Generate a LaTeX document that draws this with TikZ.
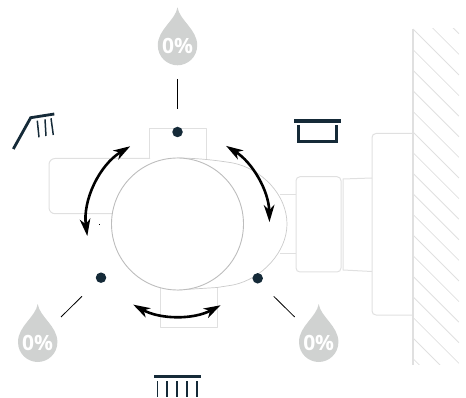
\documentclass[tikz,border=0pt]{standalone}
\usepackage{fontspec}
\setsansfont{Open Sans}
\usetikzlibrary{arrows.meta}
\definecolor{icondark}{HTML}{152A38}
\definecolor{dropgrey}{HTML}{D0D2D1}
\definecolor{bodygrey}{HTML}{E0E0E0}
\definecolor{ringgrey}{HTML}{BDBDBD}
\tikzset{
  bodyline/.style={draw=bodygrey,line width=1pt,line join=round},
  thinbody/.style={draw=bodygrey!90!black,line width=0.7pt},
  hatchline/.style={draw=bodygrey,line width=0.8pt},
  turn/.style={line width=2.6pt,{Stealth[length=17pt,width=10.5pt,inset=5pt]}-{Stealth[length=17pt,width=10.5pt,inset=5pt]}},
  dotnode/.style={circle,fill=icondark,inner sep=0pt,minimum size=10.5pt},
  droptext/.style={text=white,font=\sffamily\bfseries\fontsize{21}{21}\selectfont,inner sep=0pt},
  leader/.style={draw=black,line width=0.8pt},
  icon/.style={draw=icondark,line width=2.8pt,line join=miter},
  iconthin/.style={draw=icondark,line width=1.5pt}
}
\begin{document}
\begin{tikzpicture}[x=1pt,y=-1pt]
  \useasboundingbox (0,0) rectangle (466,398);
  % Wall
  \begin{scope}
  \clip (413,29) rectangle (459,364.5);
  \foreach \k in {-2,...,16}
    \draw[hatchline] (413,29+20.6*\k) -- ++(46,46);
  \end{scope}
  \draw[bodyline,line width=1.6pt] (413,29) -- (413,364.5);
  % Fittings towards the wall
  \draw[bodyline] (413,133.5) -- (376,133.5) arc[start angle=270,end angle=180,radius=4]
    -- (372,311) arc[start angle=180,end angle=90,radius=4] -- (413,315);
  \draw[bodyline] (372,178) -- (343,179) -- (343,270) -- (372,271.5);
  \draw[bodyline,rounded corners=4pt] (296,176.7) rectangle (341,272);
  \draw[bodyline] (280,195) -- (296,195);
  \draw[bodyline] (280,254) -- (296,254);
  % Valve body
  \draw[bodyline,rounded corners=6pt] (150,158.5) -- (49,158.5) -- (49,213.7) -- (150,213.7);
  \draw[bodyline] (149,158.5) -- (149,129) -- (206,129) -- (206,159);
  \draw[bodyline] (160,285) -- (160,327) -- (217,327) -- (217,287);
  \draw[thinbody] (177,158) .. controls (195,158) and (215,160) .. (233,163)
    .. controls (262,169) and (287,195) .. (287,224)
    .. controls (287,252) and (262,279) .. (233,285) -- (217,287.5) -- (177,290);
  \draw[draw=ringgrey,fill=white,line width=0.9pt] (177.5,224) circle (66);
  % Ports
  \node[dotnode] (dotTop) at (177.5,132) {};
  \node[dotnode] (dotLeft) at (101,277.7) {};
  \node[dotnode] (dotRight) at (257.7,278.3) {};
  \fill[black] (98.8,224.2) rectangle (100.2,225);
  % Turning arrows
  \draw[turn] (177.5,224) ++(238.7:91) arc[start angle=238.7,end angle=172.4,radius=91];
  \draw[turn] (177.5,224) ++(-58.1:92) arc[start angle=-58.1,end angle=-1.2,radius=92];
  \draw[turn] (177.5,224) ++(118.8:92) arc[start angle=118.8,end angle=62,radius=92];
  % Drops
  \foreach \nm/\px/\py in {Top/177.5/7.3, Left/37.7/304, Right/318.7/304} {
    \begin{scope}[shift={(\px,\py)}]
    \fill[dropgrey] (0,0) .. controls (2,13) and (19.7,22) .. (19.7,38)
      .. controls (19.7,50) and (10,58) .. (0,58)
      .. controls (-10,58) and (-19.7,50) .. (-19.7,38)
      .. controls (-19.7,22) and (-2,13) .. (0,0) -- cycle;
    \node[droptext] (drop\nm) at (0,38.5) {0\%};
    \end{scope}
  }
  % Leaders
  \coordinate (tickTopA) at (177.5,79);
  \coordinate (tickTopB) at (177.5,108.7);
  \coordinate (tickLeftA) at (61,317);
  \coordinate (tickLeftB) at (82,296.3);
  \coordinate (tickRightA) at (294.7,317);
  \coordinate (tickRightB) at (273.7,296.3);
  \draw[leader] (tickTopA) -- (tickTopB);
  \draw[leader] (tickLeftA) -- (tickLeftB);
  \draw[leader] (tickRightA) -- (tickRightB);
  % Hand shower
  \draw[icon] (13.3,149) -- (30.7,117.7) -- (54.3,114);
  \foreach \px/\py/\qx/\qy in {37.3/120.7/39/137.3, 45/119.3/46/136, 51/118.3/53.3/135}
    \draw[iconthin] (\px,\py) -- (\qx,\qy);
  % Bath
  \draw[icon,line width=3.4pt] (294,121) -- (341,121);
  \draw[icon] (298.7,125) -- (298.7,141.7) -- (336.3,141.7) -- (336.3,125);
  % Overhead shower
  \draw[icon,line width=3.4pt] (154,376.7) -- (200.7,376.7);
  \foreach \px in {157.3,167,177,187,197}
    \draw[iconthin] (\px,381.3) -- (\px,397);
\end{tikzpicture}
\end{document}
